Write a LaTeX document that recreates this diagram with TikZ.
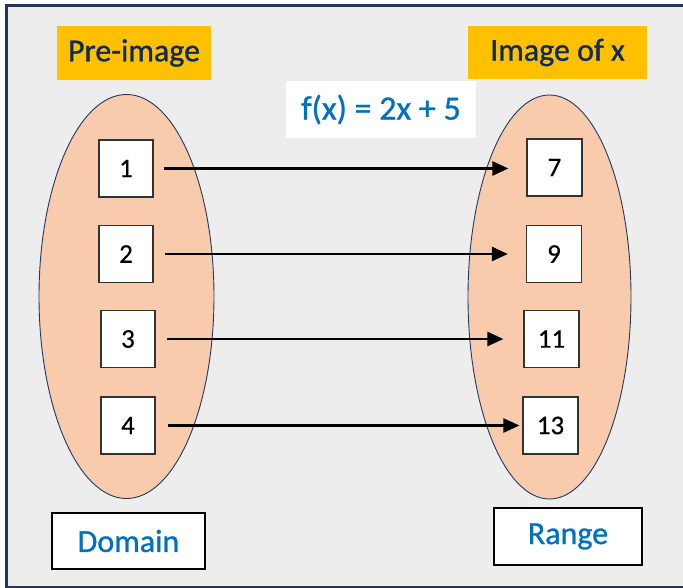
\documentclass[tikz,border=0pt]{standalone}
\usepackage{fontspec}
\setmainfont{Carlito}
\usetikzlibrary{arrows.meta}

\definecolor{panelbg}{HTML}{EDEDED}
\definecolor{framecol}{HTML}{243558}
\definecolor{setfill}{HTML}{F8CBAD}
\definecolor{setline}{HTML}{1F3864}
\definecolor{tagfill}{HTML}{FFC000}
\definecolor{navytext}{HTML}{0D2A5C}
\definecolor{bluetext}{HTML}{0070C0}
\definecolor{boxline}{HTML}{333333}

\tikzset{
  setblob/.style={fill=setfill, draw=setline, line width=0.9pt},
  elem/.style={draw=boxline, fill=white, line width=1.2pt, inner sep=0pt,
    minimum width=55pt, minimum height=57pt,
    font=\fontsize{27}{30}\selectfont\addfontfeature{FakeBold=0.4}},
  tag/.style={fill=tagfill, inner sep=0pt, text=navytext,
    font=\fontsize{32}{36}\selectfont\addfontfeature{FakeBold=0.9}},
  whitebox/.style={fill=white, inner sep=0pt, text=bluetext,
    font=\fontsize{32}{36}\selectfont\addfontfeature{FakeBold=0.9}},
  setname/.style={whitebox, draw=black, line width=1.2pt},
  mapto/.style={line width=2.5pt, -{Triangle[length=16pt,width=14pt]}}
}

\begin{document}
\begin{tikzpicture}[x=1pt, y=-1pt]
  \useasboundingbox (0,0) rectangle (683,588);
  \begin{scope}
    \clip (0,0) rectangle (683,588);
    \filldraw[fill=panelbg, draw=framecol, line width=3pt] (6,6) rectangle (700,587);
  \end{scope}

  % the two sets
  \path[setblob] (126.5,296.5) ellipse [x radius=87.5, y radius=202];
  \path[setblob] (549.5,297) ellipse [x radius=81.5, y radius=202];

  % headings
  \node[tag, minimum width=154pt, minimum height=54pt] (pre) at (134,53) {Pre-image};
  \node[tag, minimum width=179pt, minimum height=53pt] (img) at (557.5,52.5) {Image of x};
  \node[whitebox, minimum width=190pt, minimum height=57pt,
        font=\fontsize{34}{38}\selectfont\addfontfeature{FakeBold=0.9}] (rule) at (381,109.5) {f(x) = 2x + 5};

  % elements of the domain
  \node[elem, minimum width=54pt] (a1) at (126,168.5) {1};
  \node[elem, minimum width=54pt] (a2) at (126,254) {2};
  \node[elem, minimum width=54pt] (a3) at (128,339) {3};
  \node[elem, minimum width=54pt] (a4) at (128,425.5) {4};

  % elements of the range
  \node[elem] (b1) at (554.5,167.5) {7};
  \node[elem] (b2) at (554,254) {9};
  \node[elem] (b3) at (551.5,339) {11};
  \node[elem] (b4) at (550.5,425.5) {13};

  % mapping arrows
  \draw[mapto] ([xshift=10pt]a1.east) -- ([xshift=-18pt]a1.east -| b1.west);
  \draw[mapto] ([xshift=11pt]a2.east) -- ([xshift=-18pt]a2.east -| b2.west);
  \draw[mapto] ([xshift=11pt]a3.east) -- ([xshift=-20pt]a3.east -| b3.west);
  \draw[mapto] ([xshift=12pt]a4.east) -- ([xshift=-3pt]a4.east -| b4.west);

  % set names
  \node[setname, minimum width=153pt, minimum height=56pt] (dom) at (128.5,541) {Domain};
  \node[setname, minimum width=148pt, minimum height=57pt] (ran) at (568,536.5) {Range};
\end{tikzpicture}
\end{document}
